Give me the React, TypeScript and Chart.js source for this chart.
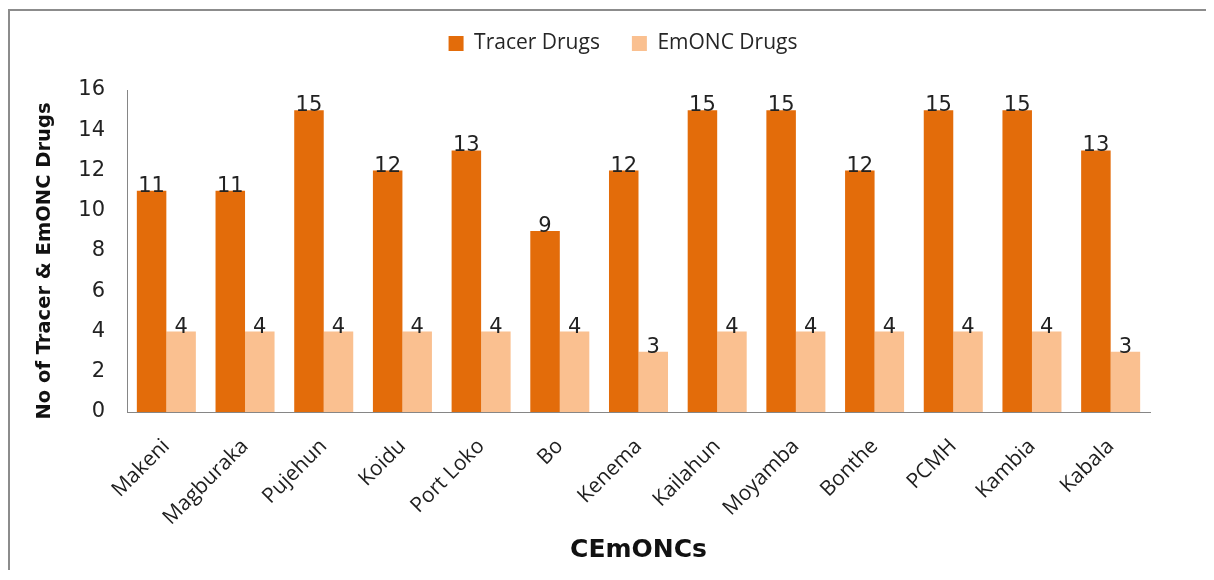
import React, { useEffect, useRef } from 'react';
import { Chart, registerables } from 'chart.js';

Chart.register(...registerables);

const categories = ['Makeni', 'Magburaka', 'Pujehun', 'Koidu', 'Port Loko', 'Bo', 'Kenema', 'Kailahun', 'Moyamba', 'Bonthe', 'PCMH', 'Kambia', 'Kabala'];
const tracerDrugs = [11, 11, 15, 12, 13, 9, 12, 15, 15, 12, 15, 15, 13];
const emoncDrugs = [4, 4, 4, 4, 4, 4, 3, 4, 4, 4, 4, 4, 3];
const seriesNames = ['Tracer Drugs', 'EmONC Drugs'];
const yAxisTitle = 'No of Tracer & EmONC Drugs';
const xAxisTitle = 'CEmONCs';

const LEGEND_HEIGHT = 89;
const LEGEND_SHIFT = 43;

const legendSpacer = {
  id: 'legendSpacer',
  beforeLayout(chart: any) {
    const lg = chart.legend;
    if (lg && !lg.__patched) {
      const orig = lg.fit;
      lg.fit = function () {
        orig.call(this);
        this.height = LEGEND_HEIGHT;
      };
      lg.__patched = true;
    }
  },
  afterLayout(chart: any) {
    const lg = chart.legend;
    if (lg) {
      lg.left += LEGEND_SHIFT;
      lg.right += LEGEND_SHIFT;
    }
  },
};

const valueLabels = {
  id: 'valueLabels',
  afterDatasetsDraw(chart: any) {
    const ctx = chart.ctx;
    ctx.save();
    ctx.font = '21px "DejaVu Sans"';
    ctx.fillStyle = '#222222';
    ctx.textAlign = 'center';
    ctx.textBaseline = 'alphabetic';
    chart.data.datasets.forEach((ds: any, i: number) => {
      const meta = chart.getDatasetMeta(i);
      meta.data.forEach((bar: any, j: number) => {
        ctx.fillText(String(ds.data[j]), bar.x, bar.y + 1);
      });
    });
    ctx.restore();
  },
};

const yTitlePlugin = {
  id: 'yTitlePlugin',
  afterDraw(chart: any) {
    const y = chart.scales.y;
    const ctx = chart.ctx;
    ctx.save();
    ctx.translate(35, (y.top + y.bottom) / 2 + 10);
    ctx.rotate(-Math.PI / 2);
    ctx.font = 'bold 19.5px "DejaVu Sans"';
    ctx.fillStyle = '#111111';
    ctx.textAlign = 'center';
    ctx.textBaseline = 'middle';
    ctx.fillText(yAxisTitle, 0, 0);
    ctx.restore();
  },
};

export default function App() {
  const ref = useRef<HTMLCanvasElement | null>(null);
  useEffect(() => {
    document.documentElement.style.overflow = 'hidden';
    document.body.style.overflow = 'hidden';
    if (!ref.current) return;
    const chart = new Chart(ref.current, {
      type: 'bar',
      data: {
        labels: categories,
        datasets: [
          { label: seriesNames[0], data: tracerDrugs, backgroundColor: '#E36C0A', borderWidth: 0 },
          { label: seriesNames[1], data: emoncDrugs, backgroundColor: '#FAC090', borderWidth: 0 },
        ],
      },
      options: {
        animation: false,
        responsive: true,
        maintainAspectRatio: false,
        layout: { padding: { top: -10, left: 0, right: 64, bottom: 0 } },
        datasets: { bar: { categoryPercentage: 0.75, barPercentage: 1 } },
        plugins: {
          tooltip: { enabled: false },
          legend: {
            position: 'top',
            labels: {
              boxWidth: 15,
              boxHeight: 15,
              padding: 32,
              color: '#262626',
              font: { family: '"Open Sans"', size: 21 },
            },
          },
        },
        scales: {
          x: {
            grid: { display: false, drawTicks: false },
            border: { display: true, color: '#868686', width: 1 },
            ticks: {
              autoSkip: false,
              minRotation: 45,
              maxRotation: 45,
              padding: 22,
              color: '#1e1e1e',
              font: { family: '"Open Sans"', size: 21 },
            },
            title: {
              display: true,
              text: xAxisTitle,
              color: '#111111',
              font: { family: '"DejaVu Sans"', size: 25, weight: 'bold' },
              padding: { top: 0, bottom: 6 },
            },
            afterFit(scale: any) {
              scale.height = 159;
            },
          },
          y: {
            min: 0,
            max: 16,
            grid: { display: false, drawTicks: false },
            border: { display: true, color: '#868686', width: 1 },
            ticks: {
              stepSize: 2,
              padding: 22,
              color: '#222222',
              font: { family: '"DejaVu Sans"', size: 21 },
            },
            title: { display: false, text: yAxisTitle },
            afterFit(scale: any) {
              scale.width = 117;
            },
          },
        },
      },
      plugins: [legendSpacer, valueLabels, yTitlePlugin],
    } as any);
    return () => chart.destroy();
  }, []);

  return (
    <div style={{ width: 1206, height: 562, overflow: 'hidden', position: 'relative', top: 1 }}>
      <div
        style={{
          width: 1240,
          height: 600,
          borderTop: '2px solid #8c8c8c',
          borderLeft: '2px solid #8c8c8c',
          background: '#ffffff',
        }}
      >
        <div style={{ width: 1204, height: 560, position: 'relative' }}>
          <canvas ref={ref} />
        </div>
      </div>
    </div>
  );
}
